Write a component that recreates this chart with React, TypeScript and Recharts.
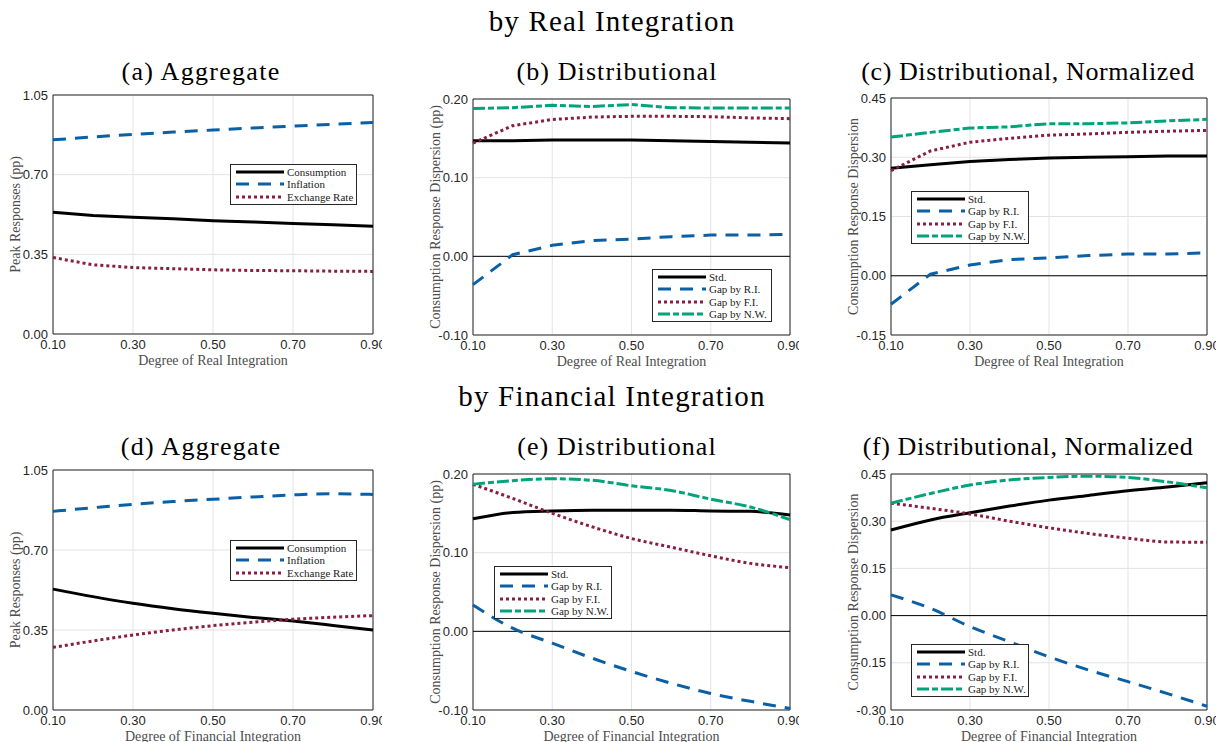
import React from "react"
import {
  LineChart,
  Line,
  XAxis,
  YAxis,
  CartesianGrid,
  ReferenceLine,
  ReferenceArea,
  Legend,
} from "recharts"

const SERIF = '"Liberation Serif", "Times New Roman", serif'
const SANS = '"Liberation Sans", Arial, sans-serif'

// degree of integration (x axis)
const degree = [0.1, 0.2, 0.3, 0.4, 0.5, 0.6, 0.7, 0.8, 0.9]
const degreeTicks = [0.1, 0.3, 0.5, 0.7, 0.9]

// y ticks
const aggTicks = [0, 0.35, 0.7, 1.05]
const distTicks = [-0.1, 0, 0.1, 0.2]
const normTicksReal = [-0.15, 0, 0.15, 0.3, 0.45]
const normTicksFin = [-0.3, -0.15, 0, 0.15, 0.3, 0.45]

// (a) aggregate, by real integration
const aConsumption = [0.535, 0.521, 0.513, 0.506, 0.498, 0.492, 0.486, 0.48, 0.473]
const aInflation = [0.853, 0.866, 0.877, 0.887, 0.896, 0.905, 0.913, 0.921, 0.929]
const aExchange = [0.336, 0.304, 0.292, 0.287, 0.282, 0.279, 0.278, 0.276, 0.275]

// (b) distributional, by real integration
const bStd = [0.147, 0.147, 0.148, 0.148, 0.148, 0.147, 0.146, 0.145, 0.144]
const bRI = [-0.036, 0.002, 0.014, 0.02, 0.022, 0.025, 0.027, 0.027, 0.028]
const bFI = [0.144, 0.166, 0.174, 0.177, 0.178, 0.178, 0.1775, 0.176, 0.175]
const bNW = [0.188, 0.189, 0.192, 0.1905, 0.193, 0.189, 0.1885, 0.1885, 0.1885]

// (c) distributional normalized, by real integration
const cStd = [0.272, 0.281, 0.289, 0.294, 0.298, 0.3, 0.301, 0.303, 0.303]
const cRI = [-0.072, 0.004, 0.027, 0.041, 0.045, 0.051, 0.055, 0.055, 0.058]
const cFI = [0.266, 0.316, 0.338, 0.348, 0.356, 0.359, 0.363, 0.366, 0.368]
const cNW = [0.351, 0.363, 0.374, 0.377, 0.385, 0.385, 0.387, 0.392, 0.396]

// (d) aggregate, by financial integration
const dConsumption = [0.529, 0.496, 0.467, 0.443, 0.423, 0.405, 0.389, 0.37, 0.35]
const dInflation = [0.869, 0.885, 0.9, 0.912, 0.922, 0.932, 0.941, 0.946, 0.943]
const dExchange = [0.274, 0.302, 0.328, 0.35, 0.369, 0.384, 0.397, 0.406, 0.413]

// (e) distributional, by financial integration
const eStd = [0.143, 0.151, 0.153, 0.154, 0.154, 0.154, 0.153, 0.1525, 0.148]
const eRI = [0.0335, 0.004, -0.015, -0.034, -0.051, -0.066, -0.079, -0.089, -0.098]
const eFI = [0.187, 0.169, 0.15, 0.133, 0.118, 0.107, 0.096, 0.0864, 0.081]
const eNW = [0.187, 0.1915, 0.194, 0.192, 0.185, 0.179, 0.168, 0.158, 0.142]

// (f) distributional normalized, by financial integration
const fStd = [0.272, 0.304, 0.327, 0.348, 0.367, 0.382, 0.397, 0.409, 0.422]
const fRI = [0.066, 0.023, -0.035, -0.083, -0.131, -0.173, -0.21, -0.248, -0.288]
const fFI = [0.357, 0.341, 0.323, 0.3, 0.279, 0.261, 0.246, 0.234, 0.233]
const fNW = [0.357, 0.388, 0.415, 0.431, 0.439, 0.443, 0.439, 0.425, 0.406]

const BLACK = "#000000"
const BLUE = "#0b5fa5"
const MAROON = "#8a1e41"
const GREEN = "#00a37a"

const SOLID = undefined
const DASHED = "13 9"
const DOTTED = "3 3"
const DASHDOT = "12 3 6 3"

type Series = { key: string; name: string; values: number[]; color: string; dash?: string }

const aggSeries = (c: number[], i: number[], e: number[]): Series[] => [
  { key: "c", name: "Consumption", values: c, color: BLACK, dash: SOLID },
  { key: "i", name: "Inflation", values: i, color: BLUE, dash: DASHED },
  { key: "e", name: "Exchange Rate", values: e, color: MAROON, dash: DOTTED },
]

const distSeries = (s: number[], r: number[], f: number[], n: number[]): Series[] => [
  { key: "s", name: "Std.", values: s, color: BLACK, dash: SOLID },
  { key: "r", name: "Gap by R.I.", values: r, color: BLUE, dash: DASHED },
  { key: "f", name: "Gap by F.I.", values: f, color: MAROON, dash: DOTTED },
  { key: "n", name: "Gap by N.W.", values: n, color: GREEN, dash: DASHDOT },
]

const LegendBox = ({ series, width }: { series: Series[]; width: number }) => (
  <div
    style={{
      width,
      boxSizing: "border-box",
      border: "1px solid #262626",
      background: "#fff",
      padding: "1px 0",
    }}
  >
    {series.map((s) => (
      <div key={s.key} style={{ display: "flex", alignItems: "center", height: 12.3 }}>
        <svg width={56} height={8} style={{ flex: "none" }}>
          <line x1={5} y1={4} x2={53} y2={4} stroke={s.color} strokeWidth={3} strokeDasharray={s.dash} />
        </svg>
        <span style={{ fontFamily: SERIF, fontSize: 11, color: "#222", whiteSpace: "nowrap", lineHeight: "12px" }}>
          {s.name}
        </span>
      </div>
    ))}
  </div>
)

type PanelProps = {
  box: { x0: number; x1: number; y0: number; y1: number }
  yDomain: [number, number]
  yTicks: number[]
  yLabel: string
  xLabel: string
  series: Series[]
  curve: "linear" | "monotone"
  legend: { left: number; top: number; width: number }
  zero?: boolean
}

const Panel = ({ box, yDomain, yTicks, yLabel, xLabel, series, curve, legend, zero }: PanelProps) => {
  const left = box.x0 - 50
  const top = box.y0 - 10
  const width = box.x1 - box.x0 + 59
  const height = box.y1 - box.y0 + 50
  const data = degree.map((d, i) => {
    const row: Record<string, number> = { d }
    series.forEach((s) => (row[s.key] = s.values[i]))
    return row
  })
  return (
    <div style={{ position: "absolute", left, top, width, height, overflow: "hidden" }}>
      <LineChart width={width} height={height} data={data} margin={{ top: 10, right: 9, left: 0, bottom: 0 }}>
        <CartesianGrid stroke="#e3e3e3" strokeWidth={1} />
        <XAxis
          dataKey="d"
          type="number"
          domain={[0.1, 0.9]}
          ticks={degreeTicks}
          interval={0}
          tickFormatter={(v: number) => v.toFixed(2)}
          axisLine={false}
          tickLine={false}
          tickSize={0}
          tickMargin={6}
          height={40}
          tick={{ fill: "#262626", fontSize: 13, fontFamily: SANS }}
          label={{ value: xLabel, position: "insideBottom", offset: 9, fill: "#4d4d4d", fontSize: 14, fontFamily: SERIF }}
        />
        <YAxis
          type="number"
          domain={yDomain}
          ticks={yTicks}
          interval={0}
          tickFormatter={(v: number) => v.toFixed(2)}
          axisLine={false}
          tickLine={false}
          tickSize={0}
          tickMargin={5}
          width={50}
          tick={{ fill: "#262626", fontSize: 13, fontFamily: SANS }}
          label={{
            value: yLabel,
            angle: -90,
            position: "insideLeft",
            offset: 12,
            fill: "#4d4d4d",
            fontSize: 14,
            fontFamily: SERIF,
            style: { textAnchor: "middle" },
          }}
        />
        {zero && <ReferenceLine y={0} stroke="#000" strokeWidth={1} />}
        {series.map((s) => (
          <Line
            key={s.key}
            dataKey={s.key}
            name={s.name}
            type={curve}
            stroke={s.color}
            strokeWidth={3}
            strokeDasharray={s.dash}
            dot={false}
            activeDot={false}
            isAnimationActive={false}
          />
        ))}
        <ReferenceArea
          x1={0.1}
          x2={0.9}
          y1={yDomain[0]}
          y2={yDomain[1]}
          fill="none"
          stroke="#262626"
          strokeWidth={1}
          ifOverflow="visible"
        />
        <Legend
          layout="horizontal"
          verticalAlign="middle"
          align="center"
          content={() => <LegendBox series={series} width={legend.width} />}
          wrapperStyle={{ left: legend.left - left, top: legend.top - top, width: legend.width }}
        />
      </LineChart>
    </div>
  )
}

const Title = ({ text, cx, top, size, spacing }: { text: string; cx: number; top: number; size: number; spacing: number }) => (
  <div
    style={{
      position: "absolute",
      left: cx - 300,
      top,
      width: 600,
      textAlign: "center",
      fontFamily: SERIF,
      fontSize: size,
      letterSpacing: spacing,
      lineHeight: 1,
      color: "#000",
      whiteSpace: "nowrap",
    }}
  >
    {text}
  </div>
)

const App = () => {
  return (
    <div style={{ position: "absolute", left: 0, top: 0, width: 1217, height: 742, background: "#fff", overflow: "hidden" }}>
      <Title text="by Real Integration" cx={612} top={7} size={29} spacing={1.2} />
      <Title text="(a) Aggregate" cx={201} top={59} size={26} spacing={1.3} />
      <Title text="(b) Distributional" cx={617} top={59} size={26} spacing={1.1} />
      <Title text="(c) Distributional, Normalized" cx={1028} top={59} size={26} spacing={0.6} />
      <Title text="by Financial Integration" cx={612} top={382} size={29} spacing={1.2} />
      <Title text="(d) Aggregate" cx={201} top={434} size={26} spacing={1.3} />
      <Title text="(e) Distributional" cx={617} top={434} size={26} spacing={1.1} />
      <Title text="(f) Distributional, Normalized" cx={1028} top={434} size={26} spacing={0.6} />

      <Panel
        box={{ x0: 53, x1: 373, y0: 95, y1: 334 }}
        yDomain={[0, 1.05]}
        yTicks={aggTicks}
        yLabel="Peak Responses (pp)"
        xLabel="Degree of Real Integration"
        series={aggSeries(aConsumption, aInflation, aExchange)}
        curve="linear"
        legend={{ left: 230, top: 164, width: 127 }}
      />
      <Panel
        box={{ x0: 473, x1: 790, y0: 99, y1: 335 }}
        yDomain={[-0.1, 0.2]}
        yTicks={distTicks}
        yLabel="Consumption Response Dispersion (pp)"
        xLabel="Degree of Real Integration"
        series={distSeries(bStd, bRI, bFI, bNW)}
        curve="linear"
        legend={{ left: 652, top: 269, width: 120 }}
        zero
      />
      <Panel
        box={{ x0: 891, x1: 1207, y0: 98, y1: 335 }}
        yDomain={[-0.15, 0.45]}
        yTicks={normTicksReal}
        yLabel="Consumption Response Dispersion"
        xLabel="Degree of Real Integration"
        series={distSeries(cStd, cRI, cFI, cNW)}
        curve="linear"
        legend={{ left: 911, top: 191, width: 118 }}
        zero
      />
      <Panel
        box={{ x0: 53, x1: 373, y0: 470, y1: 710 }}
        yDomain={[0, 1.05]}
        yTicks={aggTicks}
        yLabel="Peak Responses (pp)"
        xLabel="Degree of Financial Integration"
        series={aggSeries(dConsumption, dInflation, dExchange)}
        curve="monotone"
        legend={{ left: 230, top: 540, width: 127 }}
      />
      <Panel
        box={{ x0: 473, x1: 790, y0: 474, y1: 710 }}
        yDomain={[-0.1, 0.2]}
        yTicks={distTicks}
        yLabel="Consumption Response Dispersion (pp)"
        xLabel="Degree of Financial Integration"
        series={distSeries(eStd, eRI, eFI, eNW)}
        curve="monotone"
        legend={{ left: 494, top: 566, width: 118 }}
        zero
      />
      <Panel
        box={{ x0: 891, x1: 1207, y0: 474, y1: 710 }}
        yDomain={[-0.3, 0.45]}
        yTicks={normTicksFin}
        yLabel="Consumption Response Dispersion"
        xLabel="Degree of Financial Integration"
        series={distSeries(fStd, fRI, fFI, fNW)}
        curve="monotone"
        legend={{ left: 911, top: 644, width: 118 }}
        zero
      />
    </div>
  )
}

export default App
